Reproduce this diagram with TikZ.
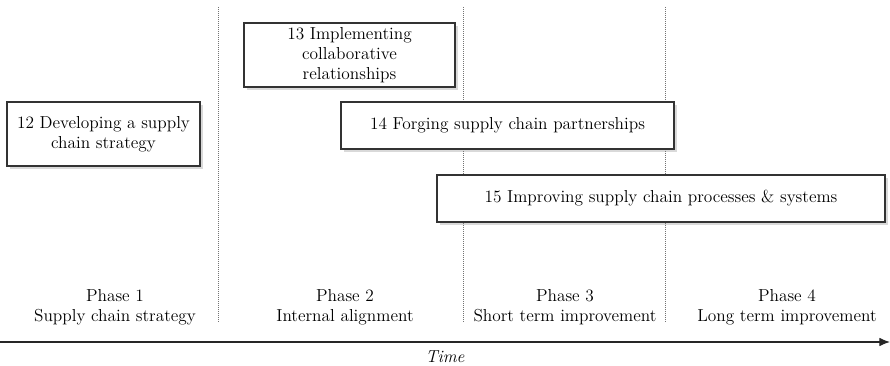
\documentclass[tikz,border=0pt]{standalone}
\usepackage{tikz}
\usetikzlibrary{arrows.meta,shadows}

\begin{document}
\begin{tikzpicture}[x=.75pt,y=-.75pt,font=\fontsize{13}{15}\selectfont,
box/.style={draw=black!80,line width=.8pt,fill=white,align=center,inner sep=2pt,
  drop shadow={opacity=.3,shadow xshift=2pt,shadow yshift=-2.5pt}},
phase/.style={align=center,inner sep=0pt},
sep/.style={draw=black!55,line width=.5pt,densely dotted},
arr/.style={-{Latex[length=8pt,width=6.5pt]},line width=.9pt,draw=black!85}]

\useasboundingbox(0,0)rectangle(890,366);

% phase borders
\foreach \xx/\nm in {218/a,463/b,665/c}{
  \coordinate(top\nm)at(\xx,7);\coordinate(bot\nm)at(\xx,323);
  \draw[sep](top\nm)--(bot\nm);}

\node[box,minimum width=144.75pt,minimum height=48pt](strat)at(103.5,134){12 Developing a supply\\chain strategy};
\node[box,minimum width=158.25pt,minimum height=48pt](collab)at(349.5,55){13 Implementing\\collaborative\\relationships};
\node[box,minimum width=249.75pt,minimum height=35.25pt](forge)at(507.5,125.5){14 Forging supply chain partnerships};
\node[box,minimum width=336pt,minimum height=35.25pt](improve)at(661,198.5){15 Improving supply chain processes \& systems};

\node[phase](ph1)at(115,307){Phase 1\\Supply chain strategy};
\node[phase](ph2)at(345,307){Phase 2\\Internal alignment};
\node[phase](ph3)at(565,307){Phase 3\\Short term improvement};
\node[phase](ph4)at(787,307){Phase 4\\Long term improvement};

\coordinate(tstart)at(0,342);\coordinate(tend)at(890,342);
\draw[arr](tstart)--(tend);
\node[font=\fontsize{13}{15}\selectfont\itshape](time)at(445,357){Time};
\end{tikzpicture}
\end{document}
